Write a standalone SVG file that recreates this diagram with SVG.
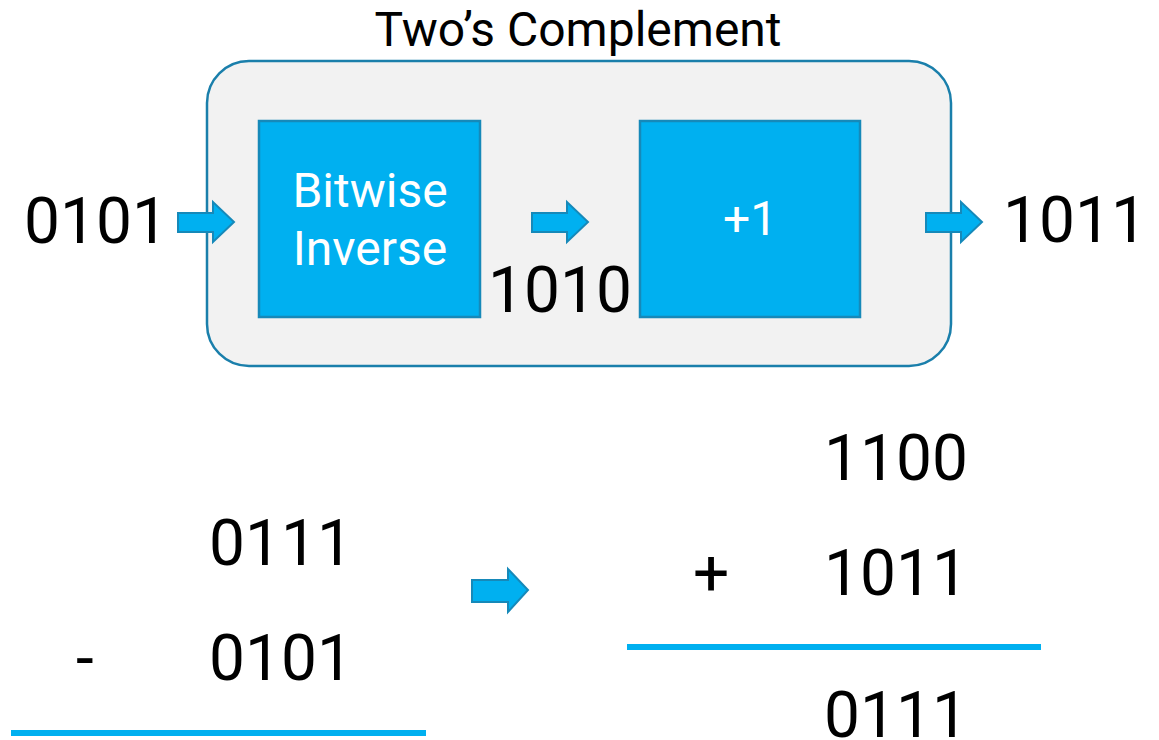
<svg xmlns="http://www.w3.org/2000/svg" width="1159" height="740" viewBox="0 0 1159 740">
<style>
.t{font-family:Roboto,"Liberation Sans",sans-serif;fill:#000}
.big{font-size:64px}
.w{font-family:Roboto,"Liberation Sans",sans-serif;fill:#fff;font-size:48px;text-anchor:middle}
.blk{fill:#00b0f0;stroke:#1689b9;stroke-width:2.5}
.arr{fill:#00b0f0;stroke:#1689b9;stroke-width:2}
.rule{stroke:#00b0f0;stroke-width:6}
</style>
<rect width="1159" height="740" fill="#fff"/>
<g id="outer">
<rect x="207" y="61" width="744" height="305" rx="42" fill="#f2f2f2" stroke="#1a7fab" stroke-width="2.5"/>
<text class="t" x="578" y="46" font-size="48" text-anchor="middle">Two’s Complement</text>
</g>
<g id="bitwise">
<rect class="blk" x="259" y="121" width="221" height="196"/>
<text class="w" x="370" y="207">Bitwise</text>
<text class="w" x="370" y="265">Inverse</text>
</g>
<g id="plus1">
<rect class="blk" x="640" y="121" width="220" height="196"/>
<text class="w" x="750" y="235">+1</text>
</g>
<g id="labels">
<text class="t big" x="24" y="243">0101</text>
<text class="t big" x="488" y="312">1010</text>
<text class="t big" x="1003" y="242">1011</text>
</g>
<g id="subtraction">
<text class="t big" x="209" y="565">0111</text>
<text class="t big" x="76" y="680">-</text>
<text class="t big" x="209" y="680">0101</text>
<line class="rule" x1="11" y1="733" x2="426" y2="733"/>
</g>
<g id="addition">
<text class="t big" x="824" y="480">1100</text>
<text class="t big" x="693" y="595">+</text>
<text class="t big" x="824" y="595">1011</text>
<line class="rule" x1="627" y1="647" x2="1041" y2="647"/>
<text class="t big" x="824" y="737">0111</text>
</g>
<g id="connectors">
<path class="arr" d="M178,213 H213 V202 L234,222 L213,242 V232 H178 Z"/>
<path class="arr" d="M532,213 H567 V202 L588,222 L567,242 V232 H532 Z"/>
<path class="arr" d="M926,213 H961 V202 L982,222 L961,242 V232 H926 Z"/>
<path class="arr" d="M472,580 H508 V569 L528,590 L508,612 V602 H472 Z"/>
</g>
</svg>
